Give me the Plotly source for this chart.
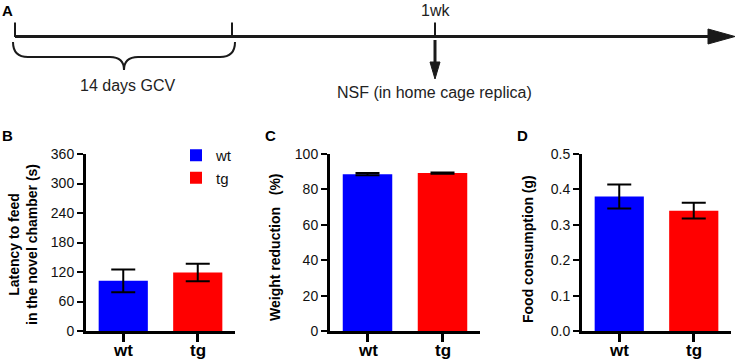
import plotly.graph_objects as go

W, H = 737, 362

# ---------------- data ----------------
groups = ["wt", "tg"]
colors = ["#0000FF", "#FF0000"]

latency_mean = [102, 119]
latency_sem = [23, 18]

weight_mean = [88.6, 89.2]
weight_sem = [0.6, 0.4]

food_mean = [0.380, 0.340]
food_sem = [0.034, 0.022]

latency_ticks = [0, 60, 120, 180, 240, 300, 360]
weight_ticks = [0, 20, 40, 60, 80, 100]
food_ticks = [0.0, 0.1, 0.2, 0.3, 0.4, 0.5]

# timeline schematic (panel A)
timeline_labels = ["14 days GCV", "1wk", "NSF (in home cage replica)"]

FONT = "Arial, Liberation Sans, sans-serif"


def X(px):
    return px / W


def Y(py):
    return 1 - py / H


fig = go.Figure()

panels = [
    ("x", "y", latency_mean, latency_sem, True),
    ("x2", "y2", weight_mean, weight_sem, False),
    ("x3", "y3", food_mean, food_sem, False),
]
for xa, ya, means, sems, show in panels:
    for g, c, m, s in zip(groups, colors, means, sems):
        fig.add_trace(go.Bar(
            x=[g], y=[m], name=g, xaxis=xa, yaxis=ya,
            marker=dict(color=c, line=dict(width=0)),
            width=0.66,
            error_y=dict(type="data", array=[s], visible=True,
                         color="black", thickness=2, width=12),
            showlegend=show,
        ))

ydom = [Y(331), Y(154)]
xdoms = [[X(86), X(235)], [X(330), X(480)], [X(582), X(731)]]

common_x = dict(
    showline=True, linewidth=3, linecolor="black",
    ticks="outside", ticklen=8, tickwidth=2.5, tickcolor="black",
    showticklabels=False,
    range=[-0.5, 1.5], showgrid=False, zeroline=False, fixedrange=True,
    automargin=False,
)
common_y = dict(
    showline=True, linewidth=3, linecolor="black",
    ticks="outside", ticklen=6, tickwidth=2, tickcolor="black",
    tickfont=dict(family=FONT, size=14, color="#111"),
    showgrid=False, zeroline=False, fixedrange=True,
    automargin=False,
)

fig.update_layout(
    xaxis=dict(domain=xdoms[0], anchor="y", **common_x),
    xaxis2=dict(domain=xdoms[1], anchor="y2", **common_x),
    xaxis3=dict(domain=xdoms[2], anchor="y3", **common_x),
    yaxis=dict(domain=ydom, anchor="x", range=[0, 360],
               tickvals=latency_ticks, **common_y),
    yaxis2=dict(domain=ydom, anchor="x2", range=[0, 100],
                tickvals=weight_ticks, **common_y),
    yaxis3=dict(domain=ydom, anchor="x3", range=[0, 0.5],
                tickvals=food_ticks, tickformat=".1f", **common_y),
)

# ---------------- panel A schematic ----------------
LC = "#1a1a1a"
shapes = []
shapes.append(dict(type="line", xref="paper", yref="paper",
                   x0=X(15), x1=X(712), y0=Y(36.5), y1=Y(36.5),
                   line=dict(color=LC, width=3)))
shapes.append(dict(type="path", xref="paper", yref="paper",
                   path=f"M {X(708)},{Y(29)} L {X(735)},{Y(36.5)} L {X(708)},{Y(44)} Z",
                   fillcolor=LC, line=dict(color=LC, width=1)))
for tx in [15, 232, 435]:
    shapes.append(dict(type="line", xref="paper", yref="paper",
                       x0=X(tx), x1=X(tx), y0=Y(22.5), y1=Y(37),
                       line=dict(color=LC, width=2)))
shapes.append(dict(type="line", xref="paper", yref="paper",
                   x0=X(435), x1=X(435), y0=Y(40), y1=Y(64),
                   line=dict(color=LC, width=3)))
shapes.append(dict(type="path", xref="paper", yref="paper",
                   path=f"M {X(430)},{Y(62)} L {X(440)},{Y(62)} L {X(435)},{Y(79)} Z",
                   fillcolor=LC, line=dict(color=LC, width=1)))
bp = (f"M {X(13)},{Y(42)} Q {X(13)},{Y(57)} {X(28)},{Y(57)} "
      f"L {X(110)},{Y(57)} Q {X(124)},{Y(57)} {X(124)},{Y(70)} "
      f"Q {X(124)},{Y(57)} {X(138)},{Y(57)} L {X(220)},{Y(57)} "
      f"Q {X(235)},{Y(57)} {X(235)},{Y(42)}")
shapes.append(dict(type="path", xref="paper", yref="paper", path=bp,
                   line=dict(color=LC, width=2)))

annotations = []


def ann(text, px, py, size, bold=False, angle=0, color="black"):
    annotations.append(dict(
        text=f"<b>{text}</b>" if bold else text,
        x=X(px), y=Y(py), xref="paper", yref="paper",
        xanchor="center", yanchor="middle", showarrow=False,
        textangle=angle, font=dict(family=FONT, size=size, color=color),
    ))


ann("A", 8, 11, 15, bold=True)
ann(timeline_labels[1], 435, 11, 16, color="#222")
ann(timeline_labels[0], 127, 85, 16, color="#222")
ann(timeline_labels[2], 434, 93, 16, color="#222")

ann("B", 8, 135, 15, bold=True)
ann("C", 270, 135, 15, bold=True)
ann("D", 522, 135, 15, bold=True)

ann("Latency to feed<br>in the novel chamber (s)", 23, 245, 14, bold=True, angle=-90)
ann("Weight reduction\u00a0\u00a0\u00a0(%)", 275, 247, 14, bold=True, angle=-90)
ann("Food consumption (g)", 528, 249, 14, bold=True, angle=-90)

# category tick labels placed at the categorical positions of each x axis
for xa in ["x", "x2", "x3"]:
    for g in groups:
        annotations.append(dict(
            text=f"<b>{g}</b>", x=g, xref=xa, y=Y(350), yref="paper",
            xanchor="center", yanchor="middle", showarrow=False,
            font=dict(family=FONT, size=17, color="black"),
        ))

fig.update_layout(
    width=W, height=H,
    margin=dict(l=0, r=0, t=0, b=0, pad=0, autoexpand=False),
    paper_bgcolor="white", plot_bgcolor="white",
    barmode="overlay",
    shapes=shapes, annotations=annotations,
    showlegend=True,
    legend=dict(x=X(176), y=Y(139), xanchor="left", yanchor="top",
                bgcolor="rgba(0,0,0,0)",
                font=dict(family=FONT, size=15, color="#111"),
                itemsizing="constant", tracegroupgap=0),
    font=dict(family=FONT),
)

fig.write_html(
    "out.html",
    config={"displayModeBar": False},
    post_script="document.body.style.margin='0';document.body.style.overflow='hidden';",
)
